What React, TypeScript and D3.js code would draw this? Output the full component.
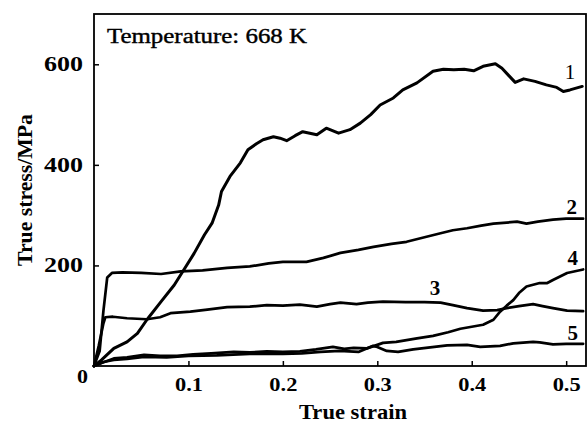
import React, { useRef, useEffect } from 'react';
import * as d3 from 'd3';

// [true strain, true stress (MPa)]
const curve1: [number, number][] = [
  [0, 0], [0.008, 12], [0.021, 35], [0.035, 48], [0.046, 65], [0.056, 92], [0.071, 128],
  [0.085, 161], [0.095, 191], [0.106, 224], [0.117, 261], [0.125, 284], [0.132, 320],
  [0.135, 347], [0.144, 377], [0.155, 404], [0.163, 430], [0.172, 442], [0.179, 450],
  [0.190, 456], [0.197, 453], [0.204, 448], [0.213, 458], [0.221, 466], [0.236, 460],
  [0.246, 473], [0.259, 463], [0.271, 470], [0.282, 483], [0.293, 500], [0.303, 519],
  [0.317, 533], [0.327, 549], [0.342, 563], [0.359, 586], [0.370, 590], [0.381, 589],
  [0.392, 590], [0.402, 587], [0.412, 596], [0.425, 601], [0.432, 592], [0.439, 578],
  [0.446, 564], [0.455, 571], [0.467, 566], [0.479, 559], [0.490, 554], [0.497, 546],
  [0.504, 549], [0.517, 556],
];

const curve2: [number, number][] = [
  [0, 0], [0.006, 30], [0.010, 110], [0.014, 176], [0.019, 185], [0.030, 186], [0.050, 185],
  [0.071, 183], [0.092, 188], [0.115, 190], [0.141, 195], [0.165, 198], [0.185, 204],
  [0.200, 207], [0.225, 207], [0.243, 215], [0.261, 225], [0.280, 231], [0.296, 237],
  [0.315, 243], [0.331, 247], [0.350, 256], [0.367, 264], [0.380, 270], [0.395, 274],
  [0.410, 279], [0.423, 283], [0.448, 287], [0.458, 283], [0.470, 287], [0.486, 291],
  [0.500, 293], [0.518, 293],
];

const curve3: [number, number][] = [
  [0, 0], [0.005, 40], [0.010, 85], [0.012, 97], [0.020, 98], [0.035, 95], [0.056, 93],
  [0.070, 97], [0.081, 105], [0.102, 108], [0.120, 112], [0.141, 117], [0.165, 118],
  [0.183, 121], [0.200, 120], [0.218, 122], [0.236, 118], [0.250, 123], [0.261, 126],
  [0.278, 123], [0.290, 126], [0.306, 128], [0.330, 127], [0.350, 127], [0.367, 126],
  [0.380, 121], [0.395, 115], [0.412, 110], [0.427, 111], [0.437, 115], [0.450, 119],
  [0.465, 123], [0.475, 119], [0.486, 115], [0.501, 110], [0.518, 109],
];

const curve4: [number, number][] = [
  [0, 0], [0.008, 6], [0.021, 15], [0.035, 17], [0.053, 22], [0.070, 20], [0.088, 20],
  [0.105, 23], [0.124, 25], [0.148, 28], [0.165, 27], [0.183, 29], [0.200, 28],
  [0.218, 29], [0.235, 33], [0.253, 38], [0.265, 34], [0.275, 36], [0.289, 35], [0.300, 42],
  [0.306, 46], [0.320, 48], [0.342, 55], [0.359, 60], [0.375, 67], [0.388, 74], [0.400, 78],
  [0.412, 82], [0.423, 92], [0.430, 108], [0.437, 120], [0.444, 131], [0.450, 145],
  [0.458, 158], [0.472, 165], [0.480, 165], [0.486, 171], [0.501, 185], [0.518, 192],
];

const curve5: [number, number][] = [
  [0, 0], [0.010, 8], [0.021, 12], [0.035, 14], [0.053, 18], [0.077, 17], [0.100, 20],
  [0.130, 21], [0.165, 24], [0.200, 24], [0.220, 25], [0.240, 28], [0.260, 30], [0.280, 28],
  [0.295, 40], [0.300, 38], [0.310, 30], [0.322, 28], [0.338, 33], [0.356, 37], [0.374, 41],
  [0.395, 42], [0.409, 38], [0.430, 40], [0.444, 45], [0.465, 48], [0.472, 47], [0.486, 43],
  [0.500, 44], [0.518, 44],
];

const series = [curve1, curve2, curve3, curve4, curve5];

// curve numbers and the (strain, stress) spot each one sits at
const curveLabels = ['1', '2', '3', '4', '5'];
const labelStrain = [0.504, 0.506, 0.361, 0.507, 0.507];
const labelStress = [585, 316, 155, 215, 66];

const xTicks = [0.1, 0.2, 0.3, 0.4, 0.5];
const yTicks = [200, 400, 600];

const title = 'Temperature: 668 K';
const xTitle = 'True strain';
const yTitle = 'True stress/MPa';

export default function App() {
  const svgRef = useRef<SVGSVGElement>(null);
  const width = 588;
  const height = 423;
  const margin = { top: 14, right: 2, bottom: 57, left: 94 };
  const font = "'Liberation Serif', 'Times New Roman', serif";

  useEffect(() => {
    const svg = d3.select(svgRef.current);
    svg.selectAll('*').remove();

    const x = d3.scaleLinear().domain([0, 0.521]).range([margin.left, width - margin.right]);
    const y = d3.scaleLinear().domain([0, 700]).range([height - margin.bottom, margin.top]);

    const line = d3.line<[number, number]>()
      .x(d => x(d[0]))
      .y(d => y(d[1]));

    // curves
    svg.append('g')
      .selectAll('path')
      .data(series)
      .join('path')
      .attr('fill', 'none')
      .attr('stroke', '#000')
      .attr('stroke-width', (d, i) => (i === 0 ? 3 : 2.7))
      .attr('stroke-linejoin', 'round')
      .attr('stroke-linecap', 'round')
      .attr('d', line);

    // x axis, inward ticks
    svg.append('g')
      .attr('transform', `translate(0,${y(0)})`)
      .call(d3.axisBottom(x).tickValues(xTicks).tickSize(-5).tickPadding(12).tickFormat(d3.format('.1f')))
      .call(g => g.select('.domain').remove())
      .call(g => g.selectAll('.tick line').attr('stroke-width', 1.5))
      .call(g => g.selectAll('.tick text')
        .attr('font-family', font)
        .attr('font-weight', 'bold')
        .attr('font-size', 19)
        .attr('fill', '#000')
        .attr('textLength', 28)
        .attr('lengthAdjust', 'spacingAndGlyphs'));

    // y axis, inward ticks
    svg.append('g')
      .attr('transform', `translate(${x(0)},0)`)
      .call(d3.axisLeft(y).tickValues(yTicks).tickSize(-5).tickPadding(11))
      .call(g => g.select('.domain').remove())
      .call(g => g.selectAll('.tick line').attr('stroke-width', 1.5))
      .call(g => g.selectAll('.tick text')
        .attr('font-family', font)
        .attr('font-weight', 'bold')
        .attr('font-size', 20)
        .attr('fill', '#000')
        .attr('textLength', 39)
        .attr('lengthAdjust', 'spacingAndGlyphs'));

    // shared origin label
    svg.append('text')
      .attr('x', x(0) - 6)
      .attr('y', y(0) + 17)
      .attr('text-anchor', 'end')
      .attr('font-family', font)
      .attr('font-weight', 'bold')
      .attr('font-size', 19)
      .attr('textLength', 11)
      .attr('lengthAdjust', 'spacingAndGlyphs')
      .text('0');

    // frame
    svg.append('rect')
      .attr('x', x(0))
      .attr('y', y(700))
      .attr('width', x(0.521) - x(0))
      .attr('height', y(0) - y(700))
      .attr('fill', 'none')
      .attr('stroke', '#000')
      .attr('stroke-width', 1.8);

    // title inside the frame
    svg.append('text')
      .attr('x', 107)
      .attr('y', 43)
      .attr('font-family', font)
      .attr('font-size', 20)
      .attr('stroke', '#000')
      .attr('stroke-width', 0.4)
      .attr('textLength', 200)
      .attr('lengthAdjust', 'spacingAndGlyphs')
      .text(title);

    // curve numbers
    svg.append('g')
      .selectAll('text')
      .data(curveLabels)
      .join('text')
      .attr('x', (d, i) => x(labelStrain[i]))
      .attr('y', (d, i) => y(labelStress[i]))
      .attr('dy', '0.35em')
      .attr('text-anchor', 'middle')
      .attr('font-family', font)
      .attr('font-weight', d => (d === '1' ? 'normal' : 'bold'))
      .attr('font-size', 21)
      .text(d => d);

    // axis titles
    svg.append('text')
      .attr('x', 353)
      .attr('y', 419)
      .attr('text-anchor', 'middle')
      .attr('font-family', font)
      .attr('font-weight', 'bold')
      .attr('font-size', 20)
      .attr('textLength', 108)
      .attr('lengthAdjust', 'spacingAndGlyphs')
      .text(xTitle);

    svg.append('text')
      .attr('transform', `translate(32,${(y(0) + y(700)) / 2}) rotate(-90)`)
      .attr('text-anchor', 'middle')
      .attr('font-family', font)
      .attr('font-weight', 'bold')
      .attr('font-size', 20)
      .attr('textLength', 152)
      .attr('lengthAdjust', 'spacingAndGlyphs')
      .text(yTitle);
  }, []);

  return (
    <svg
      ref={svgRef}
      width={width}
      height={height}
      style={{ position: 'absolute', left: 0, top: 0, background: '#fff', display: 'block' }}
    />
  );
}
